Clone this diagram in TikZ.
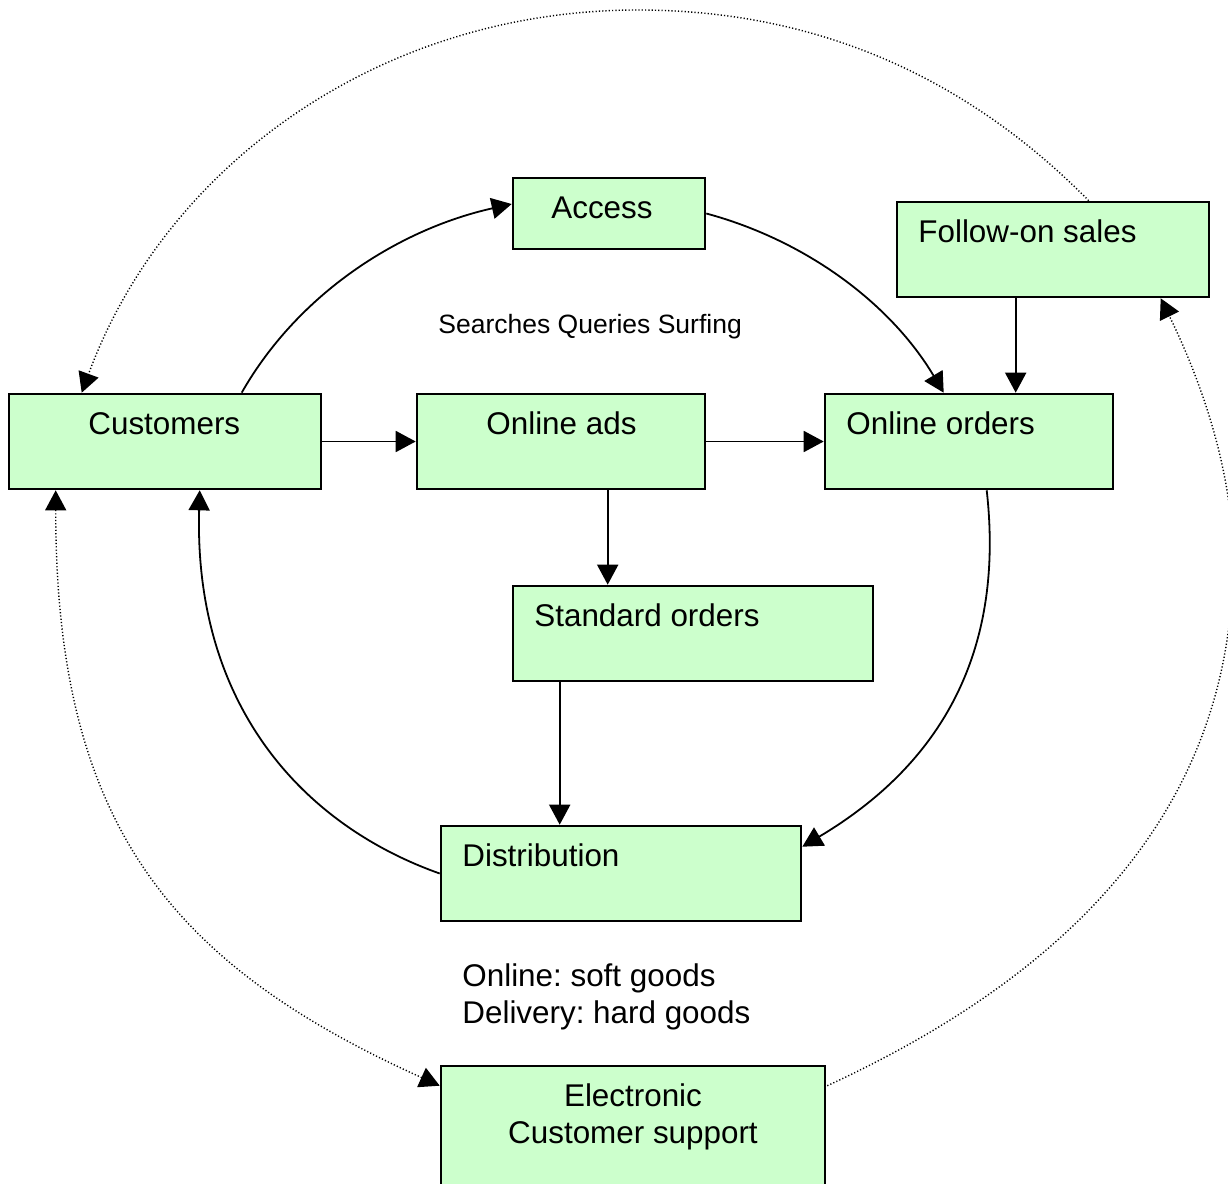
\documentclass[tikz,border=0pt]{standalone}
\usepackage{fontspec}
\setmainfont{Liberation Sans}
\usetikzlibrary{arrows.meta,calc}
\definecolor{boxgreen}{HTML}{CCFFCC}
\frenchspacing
\begin{document}
\begin{tikzpicture}[x=0.5pt,y=-0.5pt,
  box/.style={draw=black, line width=1.3pt, fill=boxgreen, rectangle, inner sep=0pt},
  lbl/.style={anchor=base west, inner sep=0pt, font=\fontsize{15.7}{18.5}\selectfont},
  small/.style={anchor=base west, inner sep=0pt, font=\fontsize{13.25}{16}\selectfont},
  tip/.tip={Triangle[length=10pt,width=10.5pt]},
  flow/.style={line width=0.9pt, -tip},
  loop/.style={line width=0.7pt, dash pattern=on 0.6pt off 1.05pt, -tip}
]
\useasboundingbox (0,0) rectangle (1228,1184);
\clip (0,0) rectangle (1228,1184);

% boxes
\node[box, minimum width=96pt,  minimum height=35.5pt] (acc)  at (609,213.5)  {};
\node[box, minimum width=156pt, minimum height=47.5pt] (fos)  at (1053,249.5) {};
\node[box, minimum width=156pt, minimum height=47.5pt] (cust) at (165,441.5)  {};
\node[box, minimum width=144pt, minimum height=47.5pt] (ads)  at (561,441.5)  {};
\node[box, minimum width=144pt, minimum height=47.5pt] (ord)  at (969,441.5)  {};
\node[box, minimum width=180pt, minimum height=47.5pt] (std)  at (693,633.5)  {};
\node[box, minimum width=180pt, minimum height=47.5pt] (dist) at (621,873.5)  {};
\node[box, minimum width=192pt, minimum height=65pt]   (ecs)  at (633,1131)   {};

% box captions (base of a two-line node is its last line)
\node[lbl] (acc-t)  at (551,218)  {Access};
\node[lbl] (fos-t)  at (918,242)  {Follow-on sales};
\node[lbl] (cust-t) at (88,434)   {Customers};
\node[lbl] (ads-t)  at (486,434)  {Online ads};
\node[lbl] (ord-t)  at (846,434)  {Online orders};
\node[lbl] (std-t)  at (534,626)  {Standard orders};
\node[lbl] (dist-t) at (462,866)  {Distribution};
\node[lbl, anchor=base, align=center] (ecs-t) at (633,1143) {Electronic\\Customer support};

% free notes
\node[small] (sqs) at (438,333) {Searches Queries Surfing};
\node[lbl, align=left] (goods) at (462,1023) {Online: soft goods\\Delivery: hard goods};

% straight connectors
\coordinate (a1) at ($(ads.south west)+(192,0)$);
\coordinate (s1) at ($(std.south west)+(48,0)$);
\coordinate (f1) at ($(fos.south west)+(120,0)$);
\draw[flow] (cust.east) -- (ads.west);
\draw[flow] (ads.east) -- (ord.west);
\draw[flow] (a1) -- (a1 |- std.north);
\draw[flow] (s1) -- (s1 |- dist.north);
\draw[flow] (f1) -- (f1 |- ord.north);

% inner loop
\draw[flow] ($(cust.north west)+(234,0)$) .. controls +(57,-100) and +(-112,25) .. ($(acc.west)+(0,-9.5)$);
\draw[flow] (acc.east) .. controls +(100,27) and +(-53,-89) .. ($(ord.north west)+(120,0)$);
\draw[flow] ($(ord.south west)+(163,0)$) .. controls +(17,151) and +(148,-88) .. ($(dist.north east)+(0,22)$);
\draw[flow] (dist.west) .. controls +(-141,-50) and +(-6,211) .. ($(cust.south west)+(192,0)$);

% outer dotted loop
\draw[loop] ($(fos.north west)+(193,0)$) .. controls +(-105,-106.5) and +(200,0) .. (638,10)
  .. controls +(-260,0) and +(82.8,-225.6) .. ($(cust.north west)+(74,0)$);
\draw[loop] ($(ecs.north east)+(1,21)$) .. controls +(227,-104.5) and +(0,260) .. (1233,560)
  .. controls +(0,-90) and +(39.6,81) .. ($(fos.south west)+(265,0)$);
\draw[loop, tip-tip] ($(cust.south west)+(48,0)$) .. controls +(0,330) and +(-273,-123) .. ($(ecs.north west)+(0,21)$);
\end{tikzpicture}
\end{document}
